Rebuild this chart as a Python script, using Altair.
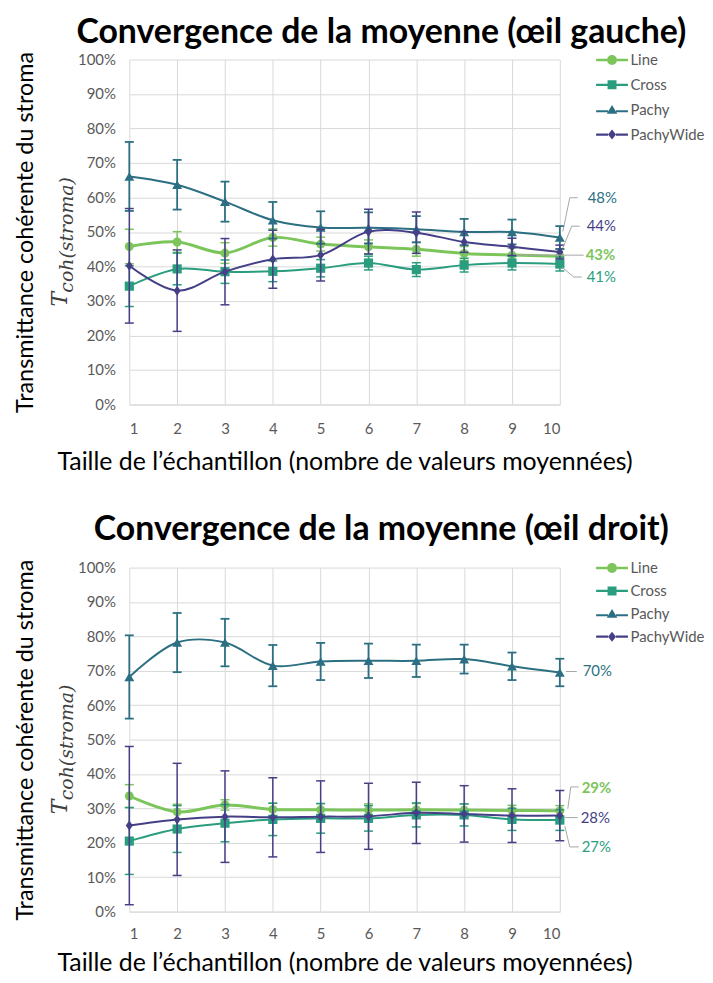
import altair as alt
import pandas as pd

# ---------------- data ----------------
sample_sizes = [1, 2, 3, 4, 5, 6, 7, 8, 9, 10]
series_names = ["Line", "Cross", "Pachy", "PachyWide"]

left_means = {
    "Line":      [45.8, 47.1, 43.9, 48.4, 46.5, 45.7, 45.0, 43.8, 43.3, 43.0],
    "Cross":     [34.3, 39.3, 38.5, 38.6, 39.5, 41.0, 39.1, 40.4, 41.0, 40.7],
    "Pachy":     [66.1, 63.7, 58.8, 53.4, 51.3, 51.2, 50.8, 50.0, 50.0, 48.4],
    "PachyWide": [40.2, 33.0, 38.5, 42.1, 43.3, 50.1, 49.8, 47.1, 45.7, 44.2],
}
left_errors = {
    "Line":      [5.0, 3.0, 3.0, 2.5, 2.0, 2.0, 2.0, 2.0, 2.0, 2.0],
    "Cross":     [5.9, 4.6, 3.4, 3.0, 2.5, 2.0, 2.0, 2.0, 2.0, 2.0],
    "Pachy":     [10.0, 7.2, 5.8, 5.3, 4.7, 4.5, 3.8, 3.8, 3.6, 3.3],
    "PachyWide": [16.6, 11.8, 9.6, 8.4, 7.5, 6.5, 6.0, 3.0, 2.5, 2.0],
}
left_end_labels = {"Line": "43%", "Cross": "41%", "Pachy": "48%", "PachyWide": "44%"}

right_means = {
    "Line":      [33.6, 29.0, 31.0, 29.7, 29.6, 29.5, 29.6, 29.5, 29.4, 29.3],
    "Cross":     [20.5, 24.0, 25.7, 26.8, 27.1, 27.1, 28.1, 28.1, 26.8, 26.6],
    "Pachy":     [68.2, 78.2, 78.2, 71.5, 72.7, 72.9, 72.9, 73.4, 71.3, 69.5],
    "PachyWide": [25.0, 26.8, 27.6, 27.4, 27.6, 27.7, 28.7, 28.4, 27.9, 27.9],
}
right_errors = {
    "Line":      [3.3, 2.2, 1.5, 1.8, 1.8, 1.8, 1.8, 1.8, 1.5, 1.5],
    "Cross":     [9.7, 6.8, 5.4, 4.7, 4.3, 3.7, 3.5, 3.2, 3.2, 3.0],
    "Pachy":     [12.1, 8.6, 6.9, 6.0, 5.4, 5.0, 4.7, 4.2, 4.0, 4.0],
    "PachyWide": [23.0, 16.3, 13.3, 11.5, 10.4, 9.6, 8.9, 8.2, 7.8, 7.3],
}
right_end_labels = {"Line": "29%", "Cross": "27%", "Pachy": "70%", "PachyWide": "28%"}

y_ticks = [0, 10, 20, 30, 40, 50, 60, 70, 80, 90, 100]

title_left = "Convergence de la moyenne (œil gauche)"
title_right = "Convergence de la moyenne (œil droit)"
x_title = "Taille de l’échantillon (nombre de valeurs moyennées)"
y_title = "Transmittance cohérente du stroma"

# ---------------- styles ----------------
colors = {"Line": "#7CC55A", "Cross": "#2A9D7F", "Pachy": "#2C6F82", "PachyWide": "#453F87"}
line_widths = {"Line": 3, "Cross": 2, "Pachy": 2, "PachyWide": 2}
err_widths = {"Line": 1.5, "Cross": 1.5, "Pachy": 1.8, "PachyWide": 1.5}
marker_shapes = {"Line": "circle", "Cross": "square", "Pachy": "triangle-up",
                 "PachyWide": "M0,-1.2L0.85,0L0,1.2L-0.85,0Z"}
marker_sizes = {"Line": 80, "Cross": 85, "Pachy": 100, "PachyWide": 70}
legend_paths = [
    "M-3.2,-0.25H-1V0.25H-3.2Z M1,-0.25H3.2V0.25H1Z M-1,0A1,1 0 1,1 1,0A1,1 0 1,1 -1,0Z",
    "M-3.2,-0.22H-0.9V0.22H-3.2Z M0.9,-0.22H3.2V0.22H0.9Z M-0.9,-0.9H0.9V0.9H-0.9Z",
    "M-3.2,0.1H-0.8V0.5H-3.2Z M0.8,0.1H3.2V0.5H0.8Z M0,-0.95L1.05,0.8H-1.05Z",
    "M-3.2,-0.22H-0.8V0.22H-3.2Z M0.8,-0.22H3.2V0.22H0.8Z M0,-1L0.8,0L0,1L-0.8,0Z",
]
GREY = "#595959"
LEADER = "#A6A6A6"
FONT = "Lato"

# leader-line offsets (px from the last point) and label offset
layout_left = {
    "Pachy":     {"leader": [(3, -6), (10, -40), (18, -40)], "text": (28, -40)},
    "PachyWide": {"leader": [(3, -4), (12, -26), (20, -26)], "text": (27, -26)},
    "Line":      {"leader": [(-44, -1), (24, -1)], "text": (26, -1)},
    "Cross":     {"leader": [(2, 3), (14, 13), (22, 13)], "text": (27, 13)},
}
layout_right = {
    "Pachy":     {"leader": [(6, -1), (17, -1)], "text": (23, -1)},
    "Line":      {"leader": [(8, -2), (11, -24), (19, -24)], "text": (22, -23)},
    "PachyWide": {"leader": [(5, 2), (18, 2)], "text": (21, 2)},
    "Cross":     {"leader": [(5, 6), (10, 27), (19, 27)], "text": (22, 27)},
}

W = 433


def make_panel(title, means, errors, end_labels, layout, height, legend_y, row_pad,
               title_offset, label_pad, title_pad):
    xscale = alt.Scale(domain=[1, 10], nice=False, zero=False)
    yscale = alt.Scale(domain=[0, 100], nice=False)
    xaxis = alt.Axis(values=sample_sizes, title=x_title, grid=True, ticks=False,
                     labelPadding=label_pad, titlePadding=title_pad, domainColor="#D9D9D9",
                     labelFont=FONT, labelFontSize=15, labelColor=GREY,
                     titleFont=FONT, titleFontSize=25, titleFontWeight="normal",
                     titleColor="#000000", gridColor="#D9D9D9")
    yaxis = alt.Axis(values=y_ticks, labelExpr="datum.value + '%'", title=y_title,
                     grid=True, ticks=False, domain=False, labelPadding=14,
                     titleX=-104, titleBaseline="middle",
                     labelFont=FONT, labelFontSize=15, labelColor=GREY,
                     titleFont=FONT, titleFontSize=23.5, titleFontWeight="normal",
                     titleColor="#000000", gridColor="#D9D9D9")

    def X(f="x"):
        return alt.X(f"{f}:Q", scale=xscale, axis=xaxis)

    def Y(f="v"):
        return alt.Y(f"{f}:Q", scale=yscale, axis=yaxis)

    layers = []
    rows = []
    for s in series_names:
        df = pd.DataFrame({
            "x": sample_sizes,
            "v": means[s],
            "lo": [m - e for m, e in zip(means[s], errors[s])],
            "hi": [m + e for m, e in zip(means[s], errors[s])],
            "series": s,
        })
        rows.append(df)
        c = colors[s]
        base = alt.Chart(df)
        layers.append(base.mark_rule(color=c, strokeWidth=err_widths[s]).encode(
            x=X(), y=Y("lo"), y2="hi:Q"))
        for f in ["lo", "hi"]:
            layers.append(base.mark_tick(color=c, orient="horizontal", size=9, opacity=1,
                                         thickness=err_widths[s]).encode(x=X(), y=Y(f)))
        layers.append(base.mark_line(color=c, strokeWidth=line_widths[s],
                                     interpolate="catmull-rom").encode(x=X(), y=Y()))
        layers.append(base.mark_point(filled=True, opacity=1, color=c, shape=marker_shapes[s],
                                      size=marker_sizes[s]).encode(x=X(), y=Y()))

    # end labels with leader lines
    for s in series_names:
        last = pd.DataFrame({"x": [sample_sizes[-1]], "v": [means[s][-1]],
                             "label": [end_labels[s]]})
        lay = layout[s]
        pts = lay["leader"]
        for a, b in zip(pts[:-1], pts[1:]):
            layers.append(alt.Chart(last).mark_rule(
                color=LEADER, strokeWidth=1, xOffset=a[0], yOffset=a[1],
                x2Offset=b[0], y2Offset=b[1]).encode(x=X(), y=Y(), x2="x:Q", y2="v:Q"))
        layers.append(alt.Chart(last).mark_text(
            dx=lay["text"][0], dy=lay["text"][1], align="left", baseline="middle",
            font=FONT, fontSize=15, color=colors[s],
            fontWeight="bold" if s == "Line" else "normal").encode(
            x=X(), y=Y(), text="label:N"))

    # T_coh(stroma) symbol beside the axis title
    tdf = pd.DataFrame({"t": ["T"], "sub": ["coh(stroma)"]})
    mid = height / 2
    layers.append(alt.Chart(tdf).mark_text(
        angle=270, align="left", baseline="middle", font="DejaVu Serif",
        fontStyle="italic", fontSize=22, color="#404040").encode(
        x=alt.value(-70), y=alt.value(mid + 75), text="t:N"))
    layers.append(alt.Chart(tdf).mark_text(
        angle=270, align="left", baseline="middle", font="DejaVu Serif",
        fontStyle="italic", fontSize=19, color="#404040").encode(
        x=alt.value(-63), y=alt.value(mid + 61), text="sub:N"))

    # legend layer (no visible marks, only the legend)
    all_df = pd.concat(rows, ignore_index=True)
    leg = alt.Legend(orient="none", legendX=478, legendY=legend_y, title=None,
                     labelFont=FONT, labelFontSize=15, labelColor=GREY,
                     symbolSize=100, labelOffset=11, rowPadding=row_pad, padding=0,
                     symbolStrokeWidth=0, symbolOpacity=1)
    layers.append(alt.Chart(all_df).transform_filter("datum.x > 100").mark_point(
        filled=True, opacity=1).encode(
        x=X(), y=Y(),
        color=alt.Color("series:N", scale=alt.Scale(domain=series_names,
                        range=[colors[s] for s in series_names]), legend=leg),
        shape=alt.Shape("series:N", scale=alt.Scale(domain=series_names, range=legend_paths),
                        legend=leg),
    ))

    return alt.layer(*layers).properties(
        width=W, height=height,
        title=alt.Title(title, font=FONT, fontSize=34, fontWeight="bold", color="#000000",
                        anchor="middle", dx=37, offset=title_offset),
    )


top = make_panel(title_left, left_means, left_errors, left_end_labels, layout_left,
                 347, -7, 9, 1, 17, 13)
bottom = make_panel(title_right, right_means, right_errors, right_end_labels, layout_right,
                    346, -7, 7, 12, 15, 9)

chart = alt.vconcat(top, bottom, spacing=39).resolve_scale(
    color="independent", shape="independent"
).resolve_legend(color="independent", shape="independent").configure_view(
    stroke=None
).properties(padding={"left": 5, "top": 5, "right": 0, "bottom": 0})

chart.save("out.html", embed_options={"renderer": "svg", "actions": False})
